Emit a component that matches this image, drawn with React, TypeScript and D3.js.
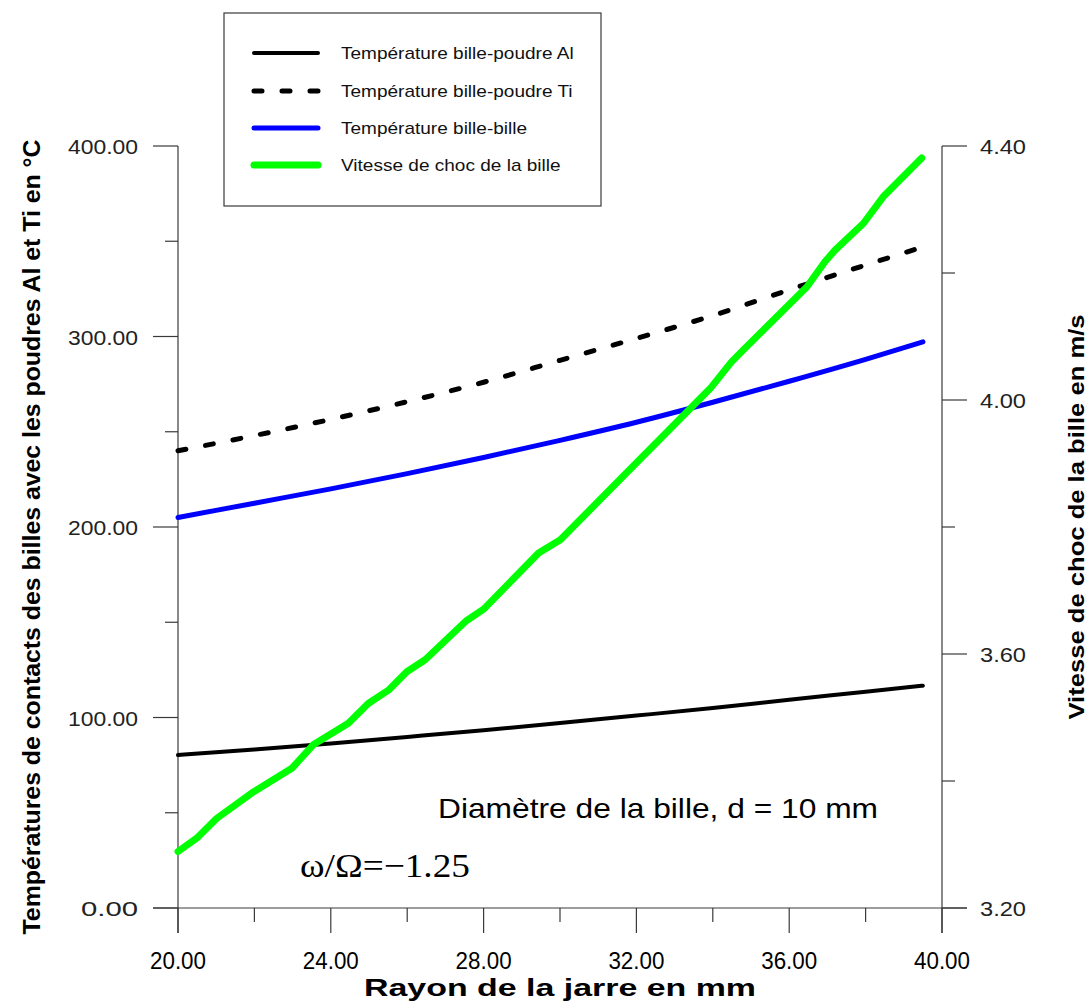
import React from "react";
import * as d3 from "d3";

const rayon = [20, 22, 24, 26, 28, 30, 32, 34, 36, 38, 39.5];
const tempAl = [80.3, 83.2, 86.4, 89.8, 93.3, 97.1, 101, 105, 109.3, 113.5, 116.7];
const tempTi = [240, 248, 256.5, 265.8, 276, 287.5, 299, 311, 324.5, 337.5, 347];
const tempBille = [205, 212.5, 220, 228, 236.5, 245.5, 255, 265.5, 276.5, 288, 297.2];

const rayonV = [20.0, 20.49, 21.01, 21.93, 22.98, 23.54, 24.46, 24.98, 25.51, 25.99, 26.47, 27.54, 28.01, 29.44, 30.01, 31.64, 33.93, 34.49, 34.8, 36.46, 36.94, 37.2, 37.94, 38.46, 39.47];
const vitesse = [3.289, 3.31, 3.341, 3.381, 3.42, 3.457, 3.491, 3.522, 3.543, 3.572, 3.591, 3.652, 3.671, 3.759, 3.78, 3.879, 4.018, 4.06, 4.079, 4.178, 4.218, 4.236, 4.278, 4.32, 4.381];

const xMajor = [20, 24, 28, 32, 36, 40];
const xMinor = [22, 26, 30, 34, 38];
const yLMajor = [0, 100, 200, 300, 400];
const yLMinor = [50, 150, 250, 350];
const yRMajor = [3.2, 3.6, 4.0, 4.4];
const yRMinor = [3.4, 3.8, 4.2];

const legendLabels = [
  "Température bille-poudre Al",
  "Température bille-poudre Ti",
  "Température bille-bille",
  "Vitesse de choc de la bille",
];

const AXIS = "#3a3a3a";
const SANS = "'Liberation Sans', Arial, sans-serif";

export default function App() {
  const x = d3.scaleLinear().domain([20, 40]).range([178, 942]);
  const yL = d3.scaleLinear().domain([0, 400]).range([908, 146]);
  const yR = d3.scaleLinear().domain([3.2, 4.4]).range([908, 146]);

  const lineL = d3
    .line<number>()
    .x((_, i) => x(rayon[i]))
    .y((d) => yL(d))
    .curve(d3.curveMonotoneX);
  const lineR = d3
    .line<number>()
    .x((_, i) => x(rayonV[i]))
    .y((d) => yR(d));

  const styles = [
    { stroke: "#000", width: 4, dash: undefined as string | undefined },
    { stroke: "#000", width: 5, dash: "8 20" },
    { stroke: "#0000ff", width: 5, dash: undefined },
    { stroke: "#00ff00", width: 7, dash: undefined },
  ];
  const legendY = [53, 91, 128, 165];

  return (
    <svg
      width={1091}
      height={1001}
      style={{ position: "absolute", left: 0, top: 0, background: "#fff" }}
    >
      <rect x={0} y={0} width={1091} height={1001} fill="#fff" />

      {/* axes lines */}
      <line x1={153} x2={967} y1={908} y2={908} stroke={AXIS} strokeWidth={1.2} />
      <line x1={178} x2={178} y1={146} y2={933} stroke={AXIS} strokeWidth={1.2} />
      <line x1={942} x2={942} y1={146} y2={933} stroke={AXIS} strokeWidth={1.2} />

      {/* x ticks */}
      {xMajor.map((v) => (
        <g key={"xm" + v}>
          <line x1={x(v)} x2={x(v)} y1={908} y2={933} stroke={AXIS} strokeWidth={1.2} />
          <text
            x={x(v)}
            y={969}
            textAnchor="middle"
            fontFamily={SANS}
            fontSize={23}
            textLength={56}
            lengthAdjust="spacingAndGlyphs"
          >
            {v.toFixed(2)}
          </text>
        </g>
      ))}
      {xMinor.map((v) => (
        <line key={"xn" + v} x1={x(v)} x2={x(v)} y1={908} y2={922} stroke={AXIS} strokeWidth={1.2} />
      ))}

      {/* left ticks */}
      {yLMajor.map((v) => (
        <g key={"ylm" + v}>
          <line x1={153} x2={178} y1={yL(v)} y2={yL(v)} stroke={AXIS} strokeWidth={1.2} />
          <text
            x={138}
            y={yL(v) + 8}
            textAnchor="end"
            fontFamily={SANS}
            fontSize={21}
            textLength={v >= 100 ? 70 : 57}
            lengthAdjust="spacingAndGlyphs"
            fill="#222"
          >
            {v.toFixed(2)}
          </text>
        </g>
      ))}
      {yLMinor.map((v) => (
        <line key={"yln" + v} x1={165} x2={178} y1={yL(v)} y2={yL(v)} stroke={AXIS} strokeWidth={1.2} />
      ))}

      {/* right ticks */}
      {yRMajor.map((v) => (
        <g key={"yrm" + v}>
          <line x1={942} x2={967} y1={yR(v)} y2={yR(v)} stroke={AXIS} strokeWidth={1.2} />
          <text
            x={980}
            y={yR(v) + 8}
            textAnchor="start"
            fontFamily={SANS}
            fontSize={21}
            textLength={46}
            lengthAdjust="spacingAndGlyphs"
            fill="#222"
          >
            {v.toFixed(2)}
          </text>
        </g>
      ))}
      {yRMinor.map((v) => (
        <line key={"yrn" + v} x1={942} x2={955} y1={yR(v)} y2={yR(v)} stroke={AXIS} strokeWidth={1.2} />
      ))}

      {/* series */}
      <path d={lineL(tempAl) || ""} fill="none" stroke="#000" strokeWidth={4} strokeLinecap="round" />
      <path
        d={lineL(tempTi) || ""}
        fill="none"
        stroke="#000"
        strokeWidth={5}
        strokeDasharray="8 20"
        strokeLinecap="round"
      />
      <path d={lineL(tempBille) || ""} fill="none" stroke="#0000ff" strokeWidth={5} strokeLinecap="round" />
      <path
        d={lineR(vitesse) || ""}
        fill="none"
        stroke="#00ff00"
        strokeWidth={7}
        strokeLinecap="round"
        strokeLinejoin="round"
      />

      {/* annotations */}
      <text
        x={438}
        y={818}
        fontFamily={SANS}
        fontSize={28}
        textLength={440}
        lengthAdjust="spacingAndGlyphs"
      >
        Diamètre de la bille, d = 10 mm
      </text>
      <text
        x={300}
        y={877}
        fontFamily="'Liberation Serif', 'Times New Roman', serif"
        fontSize={34}
        textLength={170}
        lengthAdjust="spacingAndGlyphs"
      >
        ω/Ω=−1.25
      </text>

      {/* legend */}
      <rect x={224} y={13} width={377} height={193} fill="#fff" stroke={AXIS} strokeWidth={1.2} />
      {legendLabels.map((lab, i) => (
        <g key={lab}>
          <line
            x1={254}
            x2={318}
            y1={legendY[i]}
            y2={legendY[i]}
            stroke={styles[i].stroke}
            strokeWidth={styles[i].width}
            strokeDasharray={styles[i].dash}
            strokeLinecap="round"
          />
          <text
            transform={`translate(341,${legendY[i] + 6}) scale(1.12,1)`}
            fontFamily={SANS}
            fontSize={17}
            fill="#111"
          >
            {lab}
          </text>
        </g>
      ))}

      {/* axis titles */}
      <text
        x={560}
        y={996}
        textAnchor="middle"
        fontFamily={SANS}
        fontWeight="bold"
        fontSize={23}
        textLength={392}
        lengthAdjust="spacingAndGlyphs"
      >
        Rayon de la jarre en mm
      </text>
      <text
        transform="translate(40,537) rotate(-90)"
        textAnchor="middle"
        fontFamily={SANS}
        fontWeight="bold"
        fontSize={23}
        textLength={795}
        lengthAdjust="spacingAndGlyphs"
      >
        Températures de contacts des billes avec les poudres Al et Ti en °C
      </text>
      <text
        transform="translate(1084,517) rotate(-90)"
        textAnchor="middle"
        fontFamily={SANS}
        fontWeight="bold"
        fontSize={22}
        textLength={405}
        lengthAdjust="spacingAndGlyphs"
      >
        Vitesse de choc de la bille en m/s
      </text>
    </svg>
  );
}
